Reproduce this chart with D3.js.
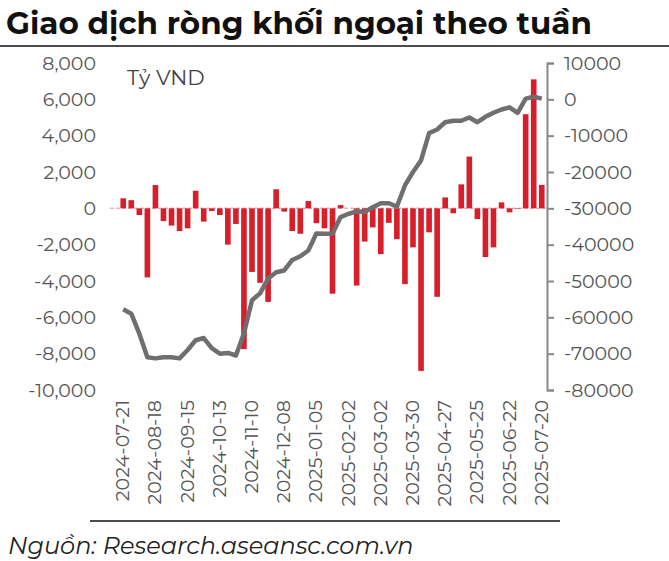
<!DOCTYPE html>
<html><head><meta charset="utf-8">
<script src="https://cdn.jsdelivr.net/npm/d3@7"></script>
<style>body{margin:0;background:#fff;font-family:Montserrat,"Noto Sans",Roboto,sans-serif}</style>
</head><body><svg id="c" width="669" height="561"></svg>
<script>
var netFlow = [550,450,-370,-3800,1280,-700,-950,-1250,-1100,970,-730,-150,-370,-2000,-860,-7750,-3500,-4100,-5150,1050,-180,-1250,-1400,400,-820,
  -1100,-4700,180,0,-4250,-1830,-1050,-2520,-800,-1700,-4170,-2150,-8950,-1320,-4870,600,-270,1320,2850,-590,-2680,-2150,330,-220,-30,5180,7100,1290];
var cumFlow = [-57800,-59000,-64500,-71000,-71300,-71000,-71000,-71300,-69000,-66300,-65700,-68500,-70000,-69800,-70500,-64400,-55300,-53400,-49300,-47600,-47100,-44200,-43200,-41600,-36900,
  -37000,-37000,-32400,-31500,-30800,-31000,-29700,-28600,-28600,-29500,-23700,-20000,-16800,-9300,-8300,-6300,-5900,-5900,-5000,-6300,-4800,-3700,-2800,-2200,-3700,200,700,200];
var leftTicks = [8000,6000,4000,2000,0,-2000,-4000,-6000,-8000,-10000];
var rightTicks = [10000,0,-10000,-20000,-30000,-40000,-50000,-60000,-70000,-80000];
var start = new Date(2024,6,21);
var weeks = netFlow.map(function(d,i){ return d3.timeDay.offset(start, i*7); });
var fmt = d3.timeFormat("%Y-%m-%d");
var hy = function(f){ return function(d){ return f(d).replace("−","-"); }; };

var svg = d3.select("#c");
svg.append("text").attr("x",6).attr("y",34).attr("font-size",31).attr("font-weight",700).attr("fill","#111")
  .text("Giao dịch ròng khối ngoại theo tuần");
svg.append("line").attr("x1",0).attr("x2",669).attr("y1",46).attr("y2",46).attr("stroke","#111").attr("stroke-width",1.5);

var x = d3.scaleBand().domain(d3.range(netFlow.length)).range([118,547]).padding(0.3);
var yL = d3.scaleLinear().domain([-10000,8000]).range([390,63]);
var yR = d3.scaleLinear().domain([-80000,10000]).range([390,63]);

svg.append("g").attr("transform","translate(96,0)")
  .call(d3.axisLeft(yL).tickValues(leftTicks).tickSize(0).tickPadding(0).tickFormat(hy(d3.format(","))))
  .call(function(g){ g.select(".domain").remove(); g.selectAll("text").attr("font-size",19).attr("fill","#555").attr("font-family","Montserrat,'Noto Sans',sans-serif"); });

svg.append("g").attr("transform","translate(547,0)")
  .call(d3.axisRight(yR).tickValues(rightTicks).tickSize(7).tickPadding(10).tickFormat(hy(d3.format("d"))))
  .call(function(g){ g.select(".domain").attr("stroke","#888").attr("stroke-width",2); g.selectAll("line").attr("stroke","#888").attr("stroke-width",2);
    g.selectAll("text").attr("font-size",19).attr("fill","#555").attr("font-family","Montserrat,'Noto Sans',sans-serif"); });

svg.append("text").attr("x",127).attr("y",85).attr("font-size",21).attr("fill","#444").text("Tỷ VND");

svg.append("line").attr("x1",110).attr("x2",547).attr("y1",yL(0)).attr("y2",yL(0))
  .attr("stroke","#e7b5b9").attr("stroke-width",1.5).attr("stroke-dasharray","4,2");

svg.selectAll("rect.b").data(netFlow).enter().append("rect")
  .attr("x",function(d,i){return x(i);}).attr("width",x.bandwidth())
  .attr("y",function(d){return yL(Math.max(0,d));})
  .attr("height",function(d){return Math.abs(yL(d)-yL(0));})
  .attr("fill","#d71f2b");

svg.append("path").datum(cumFlow)
  .attr("d", d3.line().x(function(d,i){return x(i)+x.bandwidth()/2;}).y(function(d){return yR(d);}))
  .attr("fill","none").attr("stroke","#6f6f6f").attr("stroke-width",4.5).attr("stroke-linejoin","round");

var xAxis = svg.append("g");
weeks.forEach(function(w,i){
  if (i % 4 !== 0) return;
  var cx = x(i)+x.bandwidth()/2;
  xAxis.append("text").attr("transform","translate("+(cx+6)+",400) rotate(-90)")
    .attr("text-anchor","end").attr("font-size",19).attr("fill","#555").text(fmt(w));
});

svg.append("line").attr("x1",90).attr("x2",560).attr("y1",521).attr("y2",521).attr("stroke","#111").attr("stroke-width",1.5);
svg.append("text").attr("x",8).attr("y",554).attr("font-size",24).attr("font-style","italic").attr("fill","#222")
  .text("Nguồn: Research.aseansc.com.vn");
</script></body></html>
